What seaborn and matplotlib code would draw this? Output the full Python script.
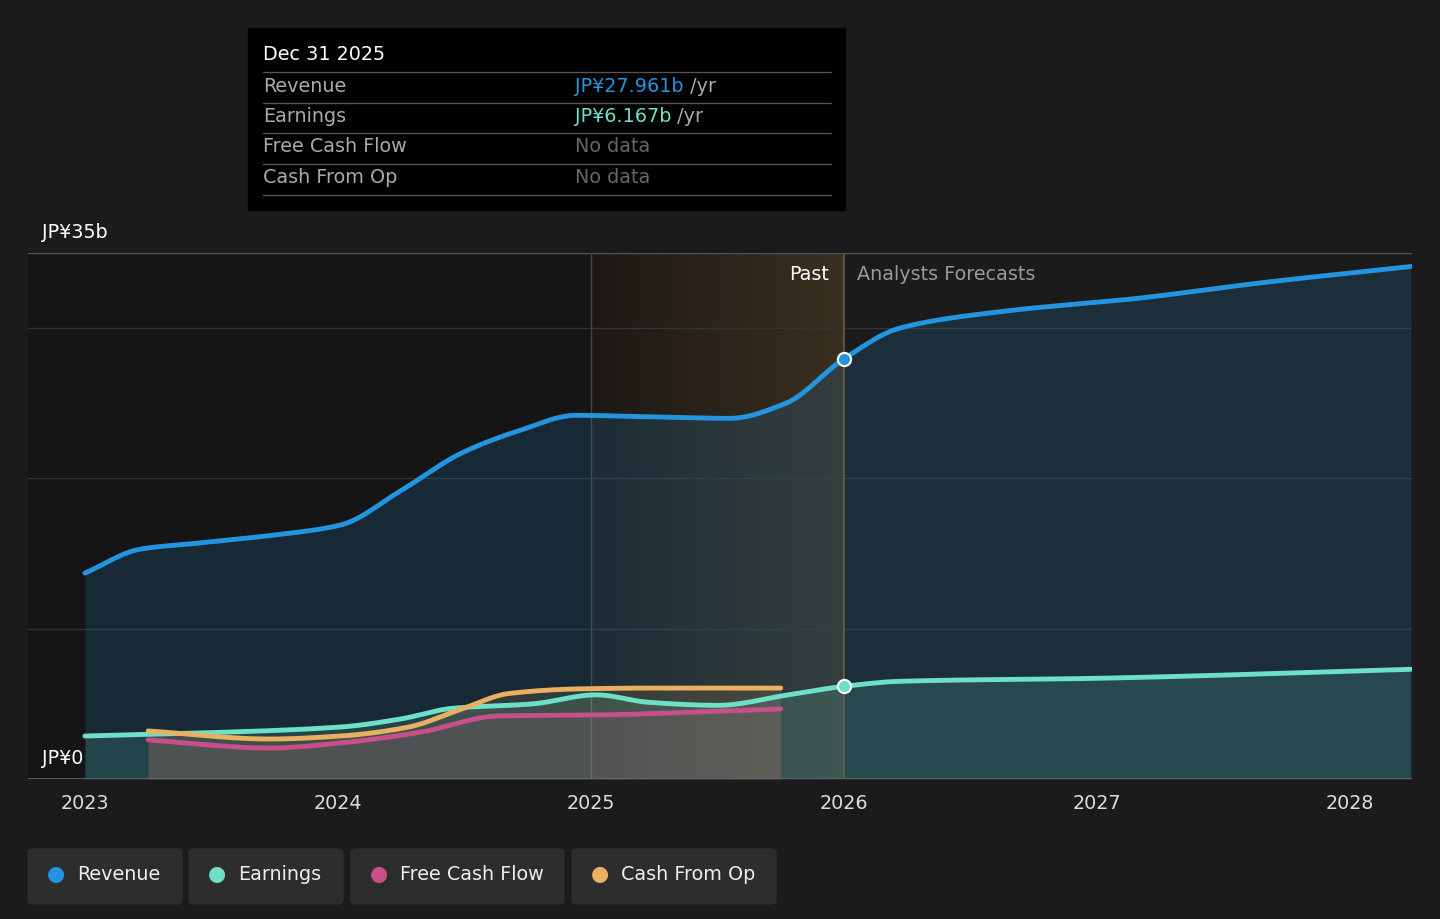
import matplotlib
matplotlib.use("Agg")
import matplotlib.pyplot as plt
import seaborn as sns
import numpy as np
import pandas as pd
from matplotlib.patches import FancyBboxPatch, Rectangle

rev_x = [2023.0, 2023.22, 2023.45, 2023.73, 2024.01, 2024.25, 2024.49, 2024.72, 2024.94, 2025.23, 2025.55, 2025.77, 2026.0, 2026.22, 2026.62, 2027.17, 2027.64, 2028.24]
rev_y = [13.7, 15.3, 15.7, 16.2, 16.9, 19.2, 21.7, 23.2, 24.2, 24.1, 24.0, 25.0, 27.961, 30.0, 31.1, 32.0, 33.0, 34.1]
ear_x = [2023.0, 2023.45, 2024.01, 2024.25, 2024.45, 2024.77, 2025.02, 2025.23, 2025.5, 2025.78, 2026.0, 2026.22, 2027.0, 2028.24]
ear_y = [2.86, 3.06, 3.46, 4.0, 4.7, 5.0, 5.6, 5.1, 4.9, 5.6, 6.167, 6.5, 6.7, 7.3]
fcf_x = [2023.25, 2023.73, 2024.01, 2024.32, 2024.64, 2025.03, 2025.42, 2025.75]
fcf_y = [2.6, 2.06, 2.4, 3.1, 4.2, 4.26, 4.46, 4.66]
cfo_x = [2023.25, 2023.73, 2024.01, 2024.28, 2024.48, 2024.68, 2024.96, 2025.23, 2025.75]
cfo_y = [3.2, 2.66, 2.86, 3.46, 4.6, 5.7, 6.0, 6.05, 6.05]

C_REV, C_EAR, C_FCF, C_CFO = "#2394df", "#6ee0c8", "#c94f8a", "#e8b060"
BG = "#1b1b1b"
FS = 13.8

def smooth(x, y, n=300):
    x = np.asarray(x); y = np.asarray(y)
    xs = np.linspace(x[0], x[-1], n)
    h = np.diff(x); d = np.diff(y) / h
    m = np.zeros_like(y)
    for i in range(1, len(x) - 1):
        if d[i-1] * d[i] > 0:
            w1 = 2*h[i] + h[i-1]; w2 = h[i] + 2*h[i-1]
            m[i] = (w1 + w2) / (w1/d[i-1] + w2/d[i])
    m[0] = d[0]; m[-1] = d[-1]
    idx = np.clip(np.searchsorted(x, xs) - 1, 0, len(h)-1)
    t = (xs - x[idx]) / h[idx]
    h00 = 2*t**3 - 3*t**2 + 1; h10 = t**3 - 2*t**2 + t
    h01 = -2*t**3 + 3*t**2; h11 = t**3 - t**2
    ys = h00*y[idx] + h10*h[idx]*m[idx] + h01*y[idx+1] + h11*h[idx]*m[idx+1]
    return xs, ys

sns.set_style("dark")
plt.rcParams['font.family'] = ['DejaVu Sans']
fig = plt.figure(figsize=(14.4, 9.19), dpi=100, facecolor=BG)
ax = fig.add_axes([28/1440, 1-779/919, 1384/1440, (779-253)/919])
ax.set_facecolor(BG)
x0, x1 = 2022.775, 2028.245
ax.set_xlim(x0, x1); ax.set_ylim(0, 35)
ax.axvspan(x0, 2026.0, color="#151515", zorder=0)
grad = np.linspace(0, 1, 256).reshape(1, -1)
ax.imshow(grad, extent=[2025.0, 2026.0, 0, 35], aspect="auto",
          cmap=matplotlib.colors.LinearSegmentedColormap.from_list("g", ["#1c1915", "#3a2f20"]), zorder=0.5)
for g in [10, 20, 30]:
    ax.axhline(g, color="#333333", lw=1, zorder=1)
ax.axhline(35, color="#555555", lw=1, zorder=1)
ax.axvline(2025.0, color="#4a4438", lw=1, zorder=1)
ax.axvline(2026.0, color="#6b5a3c", lw=1.2, zorder=5)

series = [(rev_x, rev_y, C_REV, 0.16), (ear_x, ear_y, C_EAR, 0.15), (fcf_x, fcf_y, C_FCF, 0.13), (cfo_x, cfo_y, C_CFO, 0.13)]
for xs_, ys_, c, a in series:
    sx, sy = smooth(xs_, ys_)
    ax.fill_between(sx, 0, sy, color=c, alpha=a, lw=0, zorder=2)
    df = pd.DataFrame({"x": sx, "y": sy})
    sns.lineplot(data=df, x="x", y="y", color=c, lw=3.5, ax=ax, zorder=4)

ax.scatter([2026.0], [27.961], s=90, color=C_REV, edgecolor="white", lw=1.5, zorder=6)
ax.scatter([2026.0], [6.167], s=90, color=C_EAR, edgecolor="white", lw=1.5, zorder=6)

ax.set_xticks([2023, 2024, 2025, 2026, 2027, 2028])
ax.set_xticklabels(["2023", "2024", "2025", "2026", "2027", "2028"], color="#dddddd", fontsize=FS)
ax.tick_params(axis="x", length=5, color="#666666", pad=6)
ax.set_yticks([])
ax.set_xlabel(""); ax.set_ylabel("")
for s in ax.spines.values():
    s.set_visible(False)
ax.axhline(0, color="#666666", lw=1.2, zorder=5)
ax.grid(False)

fig.text(42/1440, 1-232/919, "JP¥35b", color="white", fontsize=FS, va="center")
fig.text(42/1440, 1-759/919, "JP¥0", color="white", fontsize=FS, va="center")
fig.text(829/1440, 1-274/919, "Past", color="white", fontsize=FS, va="center", ha="right")
fig.text(857/1440, 1-274/919, "Analysts Forecasts", color="#999999", fontsize=FS, va="center")

fig.patches.append(Rectangle((248/1440, 1-210/919), 597/1440, 182/919, transform=fig.transFigure, color="black", zorder=10))
fig.text(263/1440, 1-55/919, "Dec 31 2025", color="white", fontsize=FS, va="center", zorder=11)
rows = [("Revenue", "JP¥27.961b", C_REV, " /yr"), ("Earnings", "JP¥6.167b", C_EAR, " /yr"),
        ("Free Cash Flow", "No data", "#666666", ""), ("Cash From Op", "No data", "#666666", "")]
for i, (lab, val, c, suf) in enumerate(rows):
    y = 1 - (86 + 30.5*i)/919
    fig.lines.append(plt.Line2D([263/1440, 831/1440], [y + 14/919]*2, transform=fig.transFigure, color="#555555", lw=1, zorder=11))
    fig.text(263/1440, y, lab, color="#aaaaaa", fontsize=FS, va="center", zorder=11)
    t = fig.text(575/1440, y, val, color=c, fontsize=FS, va="center", zorder=11)
    if suf:
        fig.canvas.draw()
        bb = t.get_window_extent()
        fig.text(bb.x1/1440, y, suf, color="#aaaaaa", fontsize=FS, va="center", zorder=11)
fig.lines.append(plt.Line2D([263/1440, 831/1440], [1-195/919]*2, transform=fig.transFigure, color="#555555", lw=1, zorder=11))

legs = [("Revenue", C_REV, 28, 182), ("Earnings", C_EAR, 189, 343), ("Free Cash Flow", C_FCF, 351, 564), ("Cash From Op", C_CFO, 572, 776)]
for lab, c, l, r in legs:
    fig.patches.append(FancyBboxPatch((l/1440, 1-904/919), (r-l)/1440, 55/919, boxstyle="round,pad=0,rounding_size=0.004",
                                      transform=fig.transFigure, color="#2d2d2d", zorder=10))
    fig.text((l+28)/1440, 1-874/919, "●", color=c, fontsize=15, va="center", ha="center", zorder=11)
    fig.text((l+49)/1440, 1-874/919, lab, color="#eeeeee", fontsize=FS, va="center", zorder=11)

fig.savefig("out.png", dpi=100, facecolor=BG)
